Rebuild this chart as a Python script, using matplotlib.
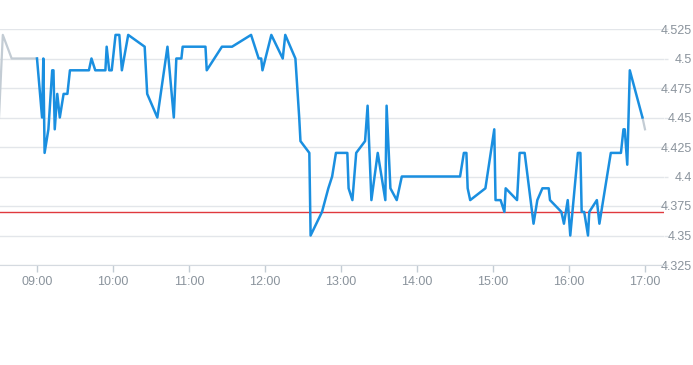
import matplotlib
matplotlib.use("Agg")
import matplotlib.pyplot as plt
from matplotlib.ticker import FixedLocator, FuncFormatter

# Pre-open (grey) segment
PRE_TIMES = ["08:30", "08:33", "08:40", "09:00"]
PRE_PRICES = [4.45, 4.52, 4.50, 4.50]

# Trading session (blue)
TIMES = [
    "09:00", "09:04", "09:05", "09:06", "09:09", "09:12", "09:13", "09:14", "09:16", "09:18",
    "09:21", "09:24", "09:26", "09:41", "09:43", "09:46", "09:54", "09:55", "09:57", "09:59",
    "10:02", "10:05", "10:07", "10:12", "10:25", "10:27", "10:35", "10:43", "10:48", "10:50",
    "10:54", "10:55", "11:13", "11:14", "11:26", "11:34", "11:49", "11:55", "11:57", "11:58",
    "12:05", "12:14", "12:16", "12:24", "12:27", "12:28", "12:35", "12:36", "12:45", "12:50",
    "12:53", "12:56", "13:05", "13:06", "13:09", "13:12", "13:19", "13:21", "13:24", "13:29",
    "13:35", "13:36", "13:39", "13:44", "13:48", "14:34", "14:37", "14:39", "14:40", "14:42",
    "14:54", "15:01", "15:02", "15:06", "15:09", "15:10", "15:19", "15:21", "15:25", "15:32",
    "15:35", "15:39", "15:44", "15:45", "15:54", "15:56", "15:59", "16:01", "16:07", "16:09",
    "16:10", "16:12", "16:15", "16:16", "16:22", "16:24", "16:30", "16:33", "16:41", "16:43",
    "16:44", "16:46", "16:48", "16:58",
]
PRICES = [
    4.50, 4.45, 4.50, 4.42, 4.44, 4.49, 4.49, 4.44, 4.47, 4.45,
    4.47, 4.47, 4.49, 4.49, 4.50, 4.49, 4.49, 4.51, 4.49, 4.49,
    4.52, 4.52, 4.49, 4.52, 4.51, 4.47, 4.45, 4.51, 4.45, 4.50,
    4.50, 4.51, 4.51, 4.49, 4.51, 4.51, 4.52, 4.50, 4.50, 4.49,
    4.52, 4.50, 4.52, 4.50, 4.45, 4.43, 4.42, 4.35, 4.37, 4.39,
    4.40, 4.42, 4.42, 4.39, 4.38, 4.42, 4.43, 4.46, 4.38, 4.42,
    4.38, 4.46, 4.39, 4.38, 4.40, 4.40, 4.42, 4.42, 4.39, 4.38,
    4.39, 4.44, 4.38, 4.38, 4.37, 4.39, 4.38, 4.42, 4.42, 4.36,
    4.38, 4.39, 4.39, 4.38, 4.37, 4.36, 4.38, 4.35, 4.42, 4.42,
    4.37, 4.37, 4.35, 4.37, 4.38, 4.36, 4.40, 4.42, 4.42, 4.44,
    4.44, 4.41, 4.49, 4.45,
]

# After-close (grey) tail
POST_TIMES = ["16:58", "17:00"]
POST_PRICES = [4.45, 4.44]

PREV_CLOSE = 4.37
Y_TICKS = [4.325, 4.35, 4.375, 4.4, 4.425, 4.45, 4.475, 4.5, 4.525]
X_TICK_LABELS = ["09:00", "10:00", "11:00", "12:00", "13:00", "14:00", "15:00", "16:00", "17:00"]

BLUE = "#1a8fe0"
GREY_LINE = "#c3ccd4"
RED = "#e0393e"
GRID = "#e3e6ea"
TEXT = "#8a939c"


def to_hours(t):
    h, m = t.split(":")
    return int(h) + int(m) / 60.0


plt.rcParams["font.family"] = ["Liberation Sans Narrow", "Liberation Sans", "DejaVu Sans"]

fig = plt.figure(figsize=(6.93, 3.65), dpi=100)
W, H = 693, 365
ax = fig.add_axes([0, 1 - 265 / H, 664 / W, 236 / H])

ax.plot([to_hours(t) for t in PRE_TIMES], PRE_PRICES, color=GREY_LINE, lw=1.6, zorder=3)
ax.plot([to_hours(t) for t in TIMES], PRICES, color=BLUE, lw=1.8, zorder=4)
ax.plot([to_hours(t) for t in POST_TIMES], POST_PRICES, color=GREY_LINE, lw=1.6, zorder=3)
ax.axhline(PREV_CLOSE, color=RED, lw=1.0, zorder=2)

ax.set_xlim(9 - 37 / 76, 9 + 627 / 76)
ax.set_ylim(4.325, 4.525)

ax.xaxis.set_major_locator(FixedLocator([to_hours(t) for t in X_TICK_LABELS]))
ax.set_xticklabels(X_TICK_LABELS)
ax.yaxis.tick_right()
ax.yaxis.set_major_locator(FixedLocator(Y_TICKS))
ax.yaxis.set_major_formatter(FuncFormatter(lambda v, p: f"{v:.3f}".rstrip("0").rstrip(".")))

ax.tick_params(axis="x", colors=GREY_LINE, length=5, width=1, labelcolor=TEXT, labelsize=9, pad=3)
ax.tick_params(axis="y", colors=GRID, length=3, width=1, labelcolor=TEXT, labelsize=9, pad=17)
for tick in ax.yaxis.get_major_ticks():
    tick.label2.set_horizontalalignment("right")

ax.grid(axis="y", color=GRID, lw=1)
ax.set_axisbelow(True)
for side in ("top", "left", "right"):
    ax.spines[side].set_visible(False)
ax.spines["bottom"].set_color("#d5dae0")

fig.savefig("out.png", dpi=100)
